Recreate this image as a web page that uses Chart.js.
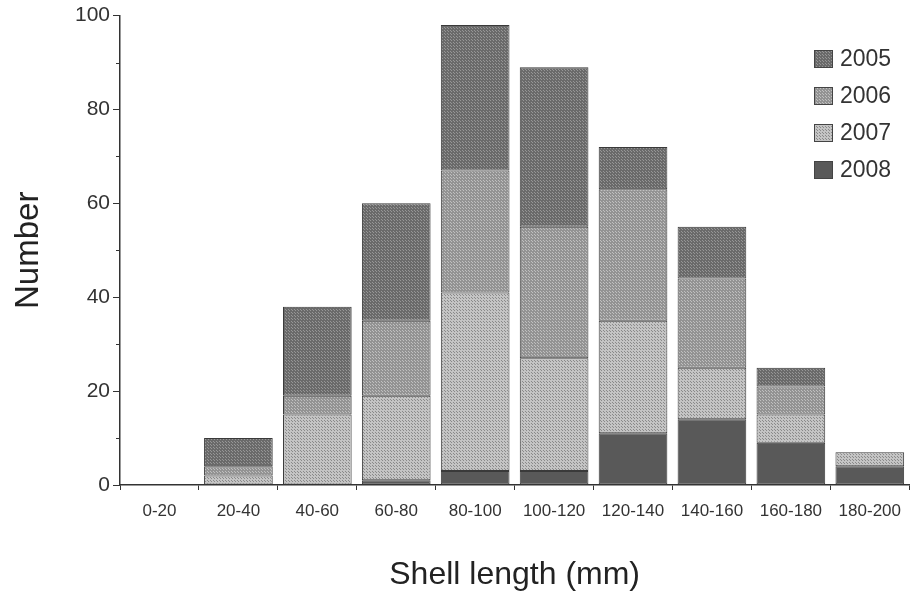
<!DOCTYPE html>
<html>
<head>
<meta charset="utf-8">
<script src="https://cdn.jsdelivr.net/npm/chart.js@4"></script>
<style>
  html, body { margin: 0; padding: 0; background: #fff; }
  #wrap { width: 912px; height: 596px; }
</style>
</head>
<body>
<div id="wrap"><canvas id="shellChart" width="912" height="596"></canvas></div>
<script>
// shell length classes and counts per year
const categories = ['0-20', '20-40', '40-60', '60-80', '80-100', '100-120', '120-140', '140-160', '160-180', '180-200'];
const years = ['2005', '2006', '2007', '2008'];
const n2005 = [0, 6, 19, 25, 31, 34, 9, 11, 4, 0];
const n2006 = [0, 2, 4, 16, 26, 28, 28, 19, 6, 0];
const n2007 = [0, 2, 15, 18, 38, 24, 24, 11, 6, 3];
const n2008 = [0, 0, 0, 1, 3, 3, 11, 14, 9, 4];
const yTicks = [0, 20, 40, 60, 80, 100];
const yMinor = [10, 30, 50, 70, 90];

const canvas = document.getElementById('shellChart');
const ctx = canvas.getContext('2d');

function dotted(bg, dot, size) {
  const c = document.createElement('canvas');
  c.width = c.height = size;
  const g = c.getContext('2d');
  g.fillStyle = bg;
  g.fillRect(0, 0, size, size);
  g.fillStyle = dot;
  g.fillRect(0, 0, 1, 1);
  g.fillRect(Math.floor(size / 2), Math.floor(size / 2), 1, 1);
  return ctx.createPattern(c, 'repeat');
}

const fills = {
  '2005': dotted('#6a6a6a', '#969696', 3),
  '2006': dotted('#939393', '#c0c0c0', 3),
  '2007': dotted('#c4c4c4', '#8a8a8a', 3),
  '2008': '#595959'
};

const font = "'Liberation Sans', Arial, sans-serif";

// legend in the upper right of the plot area
const boxLegend = {
  id: 'boxLegend',
  afterDraw(chart) {
    const c = chart.ctx;
    c.save();
    c.font = '23px ' + font;
    c.textBaseline = 'middle';
    years.forEach((yr, i) => {
      const y = 59 + i * 37;
      c.fillStyle = fills[yr];
      c.fillRect(814, y - 9, 19, 18);
      c.strokeStyle = '#444';
      c.lineWidth = 1;
      c.strokeRect(814.5, y - 8.5, 18, 17);
      c.fillStyle = '#333';
      c.fillText(yr, 840, y + 1);
    });
    c.restore();
  }
};

// short minor ticks on the y axis
const minorTicks = {
  id: 'minorTicks',
  afterDraw(chart) {
    const s = chart.scales.y;
    const c = chart.ctx;
    c.save();
    c.strokeStyle = '#333';
    c.lineWidth = 1;
    yMinor.forEach(v => {
      const py = Math.round(s.getPixelForValue(v)) + 0.5;
      c.beginPath();
      c.moveTo(s.right - 4, py);
      c.lineTo(s.right, py);
      c.stroke();
    });
    c.restore();
  }
};

const seriesData = { '2005': n2005, '2006': n2006, '2007': n2007, '2008': n2008 };
// stacked from the bottom: 2008, 2007, 2006, 2005
const stackOrder = ['2008', '2007', '2006', '2005'];

new Chart(ctx, {
  type: 'bar',
  data: {
    labels: categories,
    datasets: stackOrder.map(yr => ({
      label: yr,
      data: seriesData[yr],
      backgroundColor: fills[yr],
      borderColor: '#3a3a3a',
      borderWidth: 1,
      borderSkipped: false,
      barPercentage: 0.87,
      categoryPercentage: 1
    }))
  },
  options: {
    responsive: false,
    animation: false,
    layout: { padding: { top: 13, right: -3, left: 0, bottom: 0 } },
    plugins: { legend: { display: false }, tooltip: { enabled: false } },
    scales: {
      x: {
        stacked: true,
        offset: true,
        grid: { display: true, drawOnChartArea: false, offset: true, tickLength: 5, color: '#333' },
        border: { display: true, color: '#333', width: 1.5 },
        ticks: { color: '#333', font: { family: font, size: 17 }, padding: 11, maxRotation: 0, autoSkip: false },
        title: { display: true, text: 'Shell length (mm)', color: '#222', font: { family: font, size: 32 }, padding: { top: 4, bottom: 2 } },
        afterFit(scale) { scale.height = 111; }
      },
      y: {
        stacked: true,
        min: 0,
        max: 100,
        afterBuildTicks(scale) { scale.ticks = yTicks.map(v => ({ value: v })); },
        grid: { display: true, drawOnChartArea: false, tickLength: 7, color: '#333' },
        border: { display: true, color: '#333', width: 1.5 },
        ticks: { color: '#333', font: { family: font, size: 21 }, padding: 3 },
        title: { display: true, text: 'Number', color: '#222', font: { family: font, size: 33 }, padding: { top: 9, bottom: 9 } },
        afterFit(scale) { scale.width = 120; }
      }
    }
  },
  plugins: [boxLegend, minorTicks]
});
</script>
</body>
</html>
